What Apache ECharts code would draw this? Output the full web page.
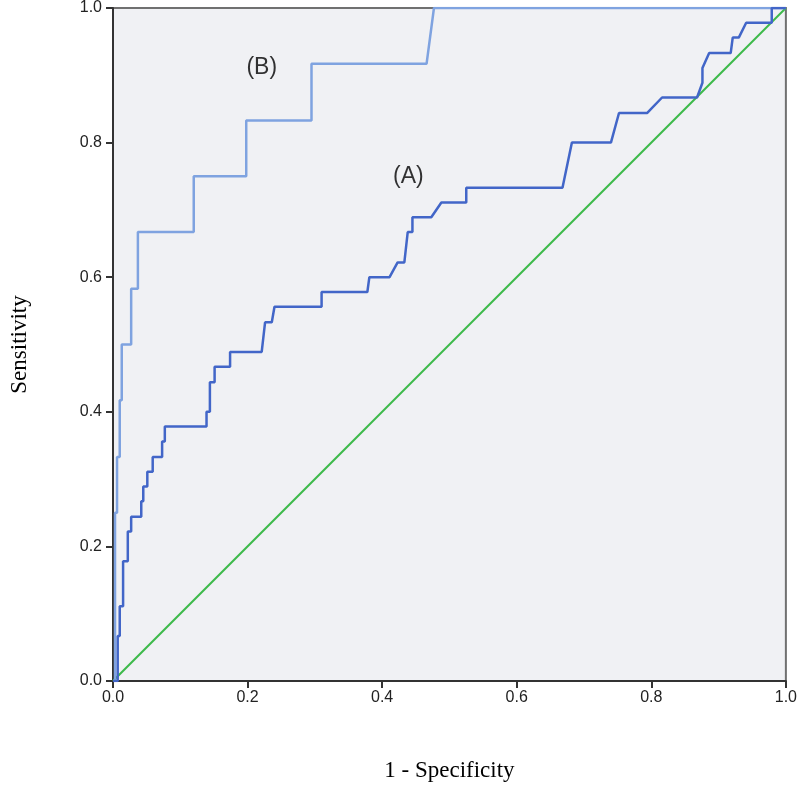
<!DOCTYPE html>
<html>
<head>
<meta charset="utf-8">
<script src="https://cdn.jsdelivr.net/npm/echarts@6/dist/echarts.min.js"></script>
<style>html,body{margin:0;padding:0;background:#fff;}#c{width:800px;height:788px;}</style>
</head>
<body>
<div id="c"></div>
<script>
// ROC curve points: [1 - Specificity, Sensitivity]
const curveA = [
  [0,0],[0.007,0],[0.007,0.067],[0.010,0.067],[0.010,0.111],[0.015,0.111],[0.015,0.178],
  [0.022,0.178],[0.022,0.222],[0.027,0.222],[0.027,0.244],[0.042,0.244],[0.042,0.267],
  [0.045,0.267],[0.045,0.289],[0.051,0.289],[0.051,0.311],[0.059,0.311],[0.059,0.333],
  [0.073,0.333],[0.073,0.356],[0.077,0.356],[0.077,0.378],[0.139,0.378],[0.139,0.400],
  [0.144,0.400],[0.144,0.444],[0.151,0.444],[0.151,0.467],[0.174,0.467],[0.174,0.489],
  [0.221,0.489],[0.226,0.533],[0.236,0.533],[0.240,0.556],[0.310,0.556],[0.310,0.578],
  [0.378,0.578],[0.381,0.600],[0.411,0.600],[0.423,0.622],[0.433,0.622],[0.438,0.667],
  [0.445,0.667],[0.445,0.689],[0.473,0.689],[0.488,0.711],[0.525,0.711],[0.525,0.733],
  [0.668,0.733],[0.682,0.800],[0.740,0.800],[0.752,0.844],[0.794,0.844],[0.816,0.867],
  [0.868,0.867],[0.876,0.889],[0.876,0.911],[0.886,0.933],[0.918,0.933],[0.921,0.956],
  [0.930,0.956],[0.941,0.978],[0.979,0.978],[0.979,1.0],[1.0,1.0]
];
const curveB = [
  [0,0],[0.003,0],[0.003,0.250],[0.006,0.250],[0.006,0.333],[0.010,0.333],[0.010,0.417],
  [0.013,0.417],[0.013,0.500],[0.027,0.500],[0.027,0.583],[0.037,0.583],[0.037,0.667],
  [0.120,0.667],[0.120,0.750],[0.198,0.750],[0.198,0.833],[0.295,0.833],[0.295,0.917],
  [0.466,0.917],[0.477,1.0],[1.0,1.0]
];
const reference = [[0,0],[1,1]];
const curveLabels = [[0.221,0.911,'(B)'],[0.439,0.749,'(A)']];
const tickFmt = v => v.toFixed(1);

const chart = echarts.init(document.getElementById('c'));
chart.setOption({
  animation: false,
  backgroundColor: '#ffffff',
  grid: {left:113, right:13, top:8, bottom:107, show:true, backgroundColor:'#f0f1f4', borderColor:'#707070', borderWidth:2},
  xAxis: {
    type:'value', min:0, max:1, interval:0.2,
    name:'1 - Specificity', nameLocation:'middle', nameGap:78,
    nameTextStyle:{fontFamily:'Liberation Serif', fontSize:23, color:'#000'},
    axisLine:{show:true, onZero:false, lineStyle:{color:'#333', width:2}},
    axisTick:{show:true, length:7, lineStyle:{color:'#333', width:2}},
    axisLabel:{formatter:tickFmt, fontFamily:'Liberation Sans', fontSize:16, color:'#222', margin:9},
    splitLine:{show:false}
  },
  yAxis: {
    type:'value', min:0, max:1, interval:0.2,
    name:'Sensitivity', nameLocation:'middle', nameGap:82,
    nameTextStyle:{fontFamily:'Liberation Serif', fontSize:23, color:'#000'},
    axisLine:{show:true, onZero:false, lineStyle:{color:'#333', width:2}},
    axisTick:{show:true, length:7, lineStyle:{color:'#333', width:2}},
    axisLabel:{formatter:tickFmt, fontFamily:'Liberation Sans', fontSize:16, color:'#222', margin:11},
    splitLine:{show:false}
  },
  series: [
    {type:'line', data:reference, symbol:'none', lineStyle:{color:'#3dba4a', width:2}, z:2},
    {type:'line', data:curveB, symbol:'none', lineStyle:{color:'#7fa3e0', width:2.5}, z:3},
    {type:'line', data:curveA, symbol:'none', lineStyle:{color:'#4266c8', width:2.5}, z:4},
    {type:'scatter', data:curveLabels, symbolSize:0, silent:true, z:5,
     label:{show:true, position:'inside', formatter:p=>p.value[2], fontFamily:'Liberation Sans', fontSize:23, color:'#000'}}
  ]
});
</script>
</body>
</html>
